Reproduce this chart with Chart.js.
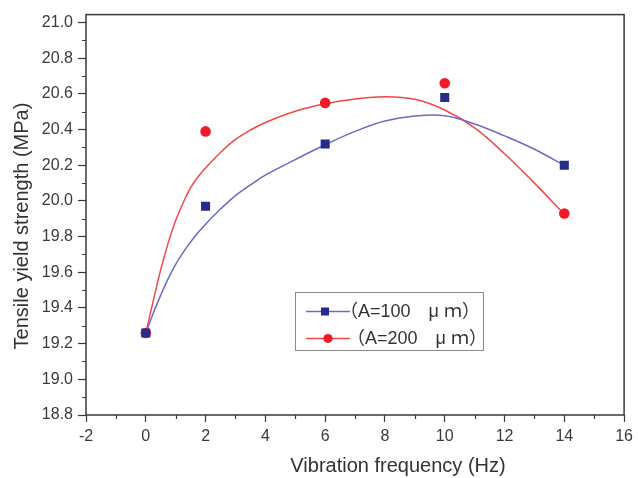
<!DOCTYPE html>
<html>
<head>
<meta charset="utf-8">
<script src="https://cdn.jsdelivr.net/npm/chart.js@4.4.1/dist/chart.umd.min.js"></script>
<style>
  html, body { margin: 0; padding: 0; background: #fff; }
  #wrap { width: 638px; height: 478px; }
</style>
</head>
<body>
<div id="wrap"><canvas id="yieldChart" width="638" height="478"></canvas></div>
<script>
// measured points
const freq = [0, 2, 6, 10, 14];
const strength100 = [19.26, 19.97, 20.32, 20.58, 20.20];
const strength200 = [19.26, 20.39, 20.55, 20.66, 19.93];

// smooth curves
const fitFreq = [0, 0.25, 0.5, 0.75, 1, 1.25, 1.5, 1.75, 2, 2.5, 3, 3.5, 4, 5, 6, 7, 8, 9, 10, 11, 12, 13, 14];
const fit100 = [19.26, 19.37, 19.472, 19.565, 19.645, 19.712, 19.77, 19.823, 19.87, 19.955, 20.03, 20.09, 20.145, 20.232, 20.315, 20.39, 20.448, 20.476, 20.478, 20.432, 20.365, 20.29, 20.20];
const fit200 = [19.26, 19.44, 19.615, 19.765, 19.89, 19.99, 20.075, 20.136, 20.185, 20.272, 20.345, 20.398, 20.44, 20.503, 20.545, 20.572, 20.585, 20.57, 20.51, 20.41, 20.265, 20.10, 19.926];

const xTicks = [-2, 0, 2, 4, 6, 8, 10, 12, 14, 16];
const yTicks = [18.8, 19.0, 19.2, 19.4, 19.6, 19.8, 20.0, 20.2, 20.4, 20.6, 20.8, 21.0];

const seriesLabels = ['（A=100　μ ｍ）', '（A=200　μ ｍ）'];
const xTitle = 'Vibration frequency (Hz)';
const yTitle = 'Tensile yield strength (MPa)';

const BLUE = '#262a8c', BLUE_LINE = '#6b6bc2';
const RED = '#ee1c25', RED_LINE = '#f24848';
const AXIS = '#3a3a3a';
const FONT = '"Liberation Sans", Arial, sans-serif';

const toXY = (xs, ys) => xs.map((v, i) => ({ x: v, y: ys[i] }));

/* =========================
   FRAME, MINOR TICKS, TITLES, LEGEND
========================= */

const decorations = {
  id: 'decorations',
  afterDraw(chart) {
    const { ctx, chartArea: a, scales: { x, y } } = chart;
    ctx.save();

    ctx.strokeStyle = AXIS;
    ctx.lineWidth = 1.5;
    ctx.strokeRect(a.left, a.top, a.right - a.left, a.bottom - a.top);

    // minor ticks halfway between majors
    ctx.lineWidth = 1.2;
    ctx.beginPath();
    for (let i = 0; i < x.ticks.length - 1; i++) {
      const px = Math.round(x.getPixelForValue((x.ticks[i].value + x.ticks[i + 1].value) / 2)) + 0.5;
      ctx.moveTo(px, a.bottom);
      ctx.lineTo(px, a.bottom + 4);
    }
    for (let i = 0; i < y.ticks.length - 1; i++) {
      const py = Math.round(y.getPixelForValue((y.ticks[i].value + y.ticks[i + 1].value) / 2)) + 0.5;
      ctx.moveTo(a.left, py);
      ctx.lineTo(a.left - 4, py);
    }
    ctx.stroke();

    // axis titles
    ctx.fillStyle = '#333';
    ctx.font = '20px ' + FONT;
    ctx.textAlign = 'center';
    ctx.textBaseline = 'middle';
    ctx.fillText(xTitle, 398, 466);
    ctx.translate(22, 226);
    ctx.rotate(-Math.PI / 2);
    ctx.fillText(yTitle, 0, 0);
    ctx.setTransform(1, 0, 0, 1, 0, 0);

    // legend box
    ctx.strokeStyle = '#8a8a8a';
    ctx.lineWidth = 1;
    ctx.strokeRect(295.5, 292.5, 188, 58);

    const rows = [
      { y: 311.5, line: BLUE_LINE, mark: BLUE, shape: 'rect', mx: 325, tx: 340 },
      { y: 338.5, line: RED_LINE, mark: RED, shape: 'circle', mx: 328, tx: 347 }
    ];
    rows.forEach((r, i) => {
      ctx.strokeStyle = r.line;
      ctx.lineWidth = 1.3;
      ctx.beginPath();
      ctx.moveTo(306, r.y);
      ctx.lineTo(350, r.y);
      ctx.stroke();
      ctx.fillStyle = r.mark;
      if (r.shape === 'rect') {
        ctx.fillRect(r.mx - 4, r.y - 4, 8, 8);
      } else {
        ctx.beginPath();
        ctx.arc(r.mx, r.y, 4.6, 0, Math.PI * 2);
        ctx.fill();
      }
      ctx.fillStyle = '#333';
      ctx.font = '18px ' + FONT + ', "Noto Sans CJK SC"';
      ctx.textAlign = 'left';
      ctx.textBaseline = 'middle';
      ctx.fillText(seriesLabels[i], r.tx, r.y + 1);
    });

    ctx.restore();
  }
};

/* =========================
   CHART
========================= */

new Chart(document.getElementById('yieldChart'), {
  type: 'scatter',
  data: {
    datasets: [
      {
        label: seriesLabels[0],
        data: toXY(freq, strength100),
        pointStyle: 'rect',
        pointRadius: 6.4,
        pointBackgroundColor: BLUE,
        pointBorderWidth: 0,
        showLine: false
      },
      {
        label: seriesLabels[1],
        data: toXY(freq, strength200),
        pointStyle: 'circle',
        pointRadius: 5.3,
        pointBackgroundColor: RED,
        pointBorderWidth: 0,
        showLine: false
      },
      {
        data: toXY(fitFreq, fit100),
        showLine: true,
        borderColor: BLUE_LINE,
        borderWidth: 1.5,
        pointRadius: 0,
        tension: 0.4
      },
      {
        data: toXY(fitFreq, fit200),
        showLine: true,
        borderColor: RED_LINE,
        borderWidth: 1.5,
        pointRadius: 0,
        tension: 0.4
      }
    ]
  },
  options: {
    responsive: false,
    animation: false,
    devicePixelRatio: 1,
    events: [],
    layout: { padding: { top: 12, right: 9, left: 0, bottom: 0 } },
    plugins: {
      legend: { display: false },
      tooltip: { enabled: false }
    },
    scales: {
      x: {
        type: 'linear',
        min: -2,
        max: 16,
        afterBuildTicks: s => { s.ticks = xTicks.map(v => ({ value: v })); },
        afterFit: s => { s.height = 63; },
        border: { display: false },
        grid: { drawOnChartArea: false, drawTicks: true, tickLength: 7, tickColor: AXIS, tickWidth: 1.2 },
        ticks: {
          color: '#3a3a3a',
          padding: 5,
          maxRotation: 0,
          font: { family: FONT, size: 16 },
          callback: v => String(v)
        }
      },
      y: {
        type: 'linear',
        min: 18.8,
        max: 21.045,
        afterBuildTicks: s => { s.ticks = yTicks.map(v => ({ value: v })); },
        afterFit: s => { s.width = 86; },
        border: { display: false },
        grid: { drawOnChartArea: false, drawTicks: true, tickLength: 8, tickColor: AXIS, tickWidth: 1.2 },
        ticks: {
          color: '#3a3a3a',
          padding: 5,
          font: { family: FONT, size: 16 },
          callback: v => Number(v).toFixed(1)
        }
      }
    }
  },
  plugins: [decorations]
});
</script>
</body>
</html>
